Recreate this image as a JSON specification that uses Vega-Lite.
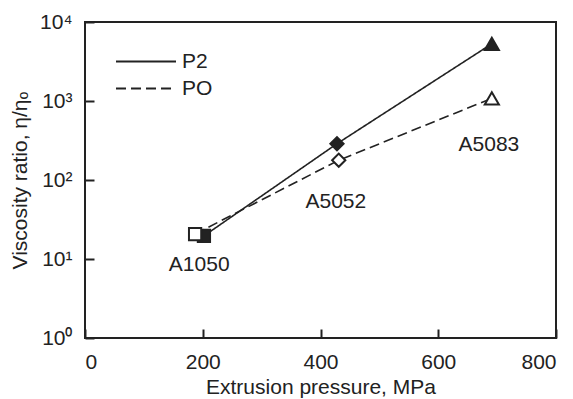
{
  "$schema": "https://vega.github.io/schema/vega-lite/v6.json",
  "width": 471,
  "height": 316,
  "autosize": {"type": "none"},
  "padding": {"left": 85, "top": 22, "right": 17, "bottom": 61},
  "background": "white",
  "config": {
    "font": "Liberation Sans",
    "view": {"stroke": "#222", "strokeWidth": 2},
    "axis": {
      "grid": false,
      "domain": false,
      "ticks": true,
      "offset": -9,
      "tickColor": "#222",
      "tickWidth": 2,
      "tickSize": 9,
      "labelColor": "#222",
      "labelFont": "Liberation Sans",
      "labelFontSize": 21,
      "titleFont": "Liberation Sans",
      "titleFontSize": 21,
      "titleFontWeight": "normal",
      "titleColor": "#222"
    },
    "legend": {
      "labelFont": "Liberation Sans",
      "labelFontSize": 21,
      "labelColor": "#222"
    }
  },
  "datasets": {
    "pts": [
      {"series": "P2", "alloy": "A1050", "p": 202, "v": 19.6},
      {"series": "P2", "alloy": "A5052", "p": 428, "v": 288},
      {"series": "P2", "alloy": "A5083", "p": 691, "v": 5300},
      {"series": "PO", "alloy": "A1050", "p": 187, "v": 20.7},
      {"series": "PO", "alloy": "A5052", "p": 431, "v": 178},
      {"series": "PO", "alloy": "A5083", "p": 691, "v": 1080}
    ],
    "labels": [
      {"label": "A1050", "p": 194, "v": 8.4},
      {"label": "A5052", "p": 426, "v": 52.7},
      {"label": "A5083", "p": 686, "v": 277}
    ]
  },
  "layer": [
    {
      "data": {"name": "pts"},
      "mark": {"type": "line", "color": "#222", "strokeWidth": 1.6},
      "encoding": {
        "x": {
          "field": "p", "type": "quantitative",
          "scale": {"domain": [0, 800], "nice": false, "zero": false},
          "axis": {"values": [0, 200, 400, 600, 800], "title": "Extrusion pressure, MPa", "labelPadding": 13, "titlePadding": 4}
        },
        "y": {
          "field": "v", "type": "quantitative",
          "scale": {"type": "log", "domain": [1, 10000], "nice": false},
          "axis": {
            "values": [1, 10, 100, 1000, 10000],
            "labelExpr": "datum.value == 1 ? '10⁰' : datum.value == 10 ? '10¹' : datum.value == 100 ? '10²' : datum.value == 1000 ? '10³' : '10⁴'",
            "title": "Viscosity ratio, η/ηₒ",
            "labelPadding": 13,
            "titlePadding": 9
          }
        },
        "strokeDash": {
          "field": "series", "type": "nominal",
          "scale": {"domain": ["P2", "PO"], "range": [[1, 0], [10, 5]]},
          "legend": {
            "title": null,
            "orient": "none",
            "legendX": 30,
            "legendY": 26,
            "symbolType": "stroke",
            "symbolSize": 3600,
            "symbolStrokeWidth": 2,
            "symbolStrokeColor": "#222",
            "labelOffset": 5,
            "clipHeight": 27,
            "rowPadding": 0,
            "padding": 0
          }
        },
        "order": {"field": "p", "type": "quantitative"}
      }
    },
    {
      "data": {"name": "pts"},
      "mark": {"type": "point", "filled": false, "stroke": "#222", "strokeWidth": 2, "opacity": 1},
      "encoding": {
        "x": {"field": "p", "type": "quantitative"},
        "y": {"field": "v", "type": "quantitative"},
        "shape": {
          "field": "alloy", "type": "nominal",
          "scale": {"domain": ["A1050", "A5052", "A5083"], "range": ["square", "diamond", "triangle-up"]},
          "legend": null
        },
        "size": {
          "field": "alloy", "type": "nominal",
          "scale": {"domain": ["A1050", "A5052", "A5083"], "range": [150, 200, 240]},
          "legend": null
        },
        "fill": {
          "field": "series", "type": "nominal",
          "scale": {"domain": ["P2", "PO"], "range": ["#222", "white"]},
          "legend": null
        }
      }
    },
    {
      "data": {"name": "labels"},
      "mark": {"type": "text", "font": "Liberation Sans", "fontSize": 21, "color": "#222", "align": "center", "baseline": "middle"},
      "encoding": {
        "x": {"field": "p", "type": "quantitative"},
        "y": {"field": "v", "type": "quantitative"},
        "text": {"field": "label"}
      }
    }
  ]
}
